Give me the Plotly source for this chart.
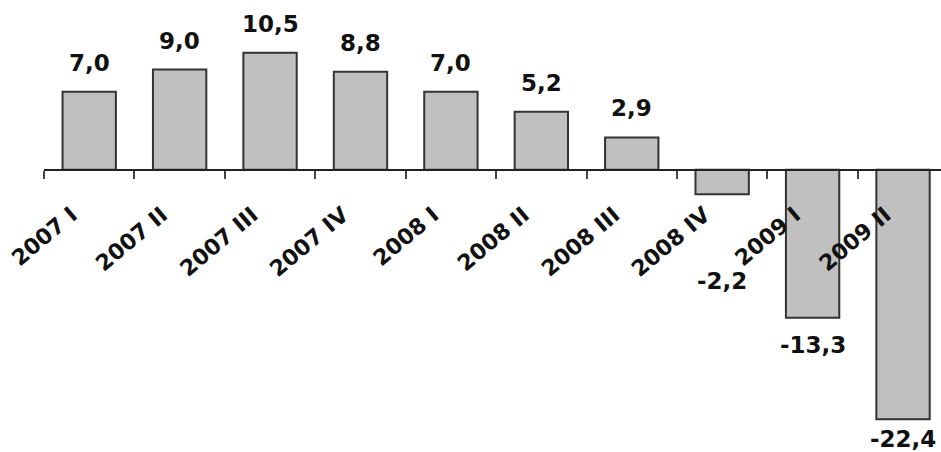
import plotly.graph_objects as go

categories = ["2007 I", "2007 II", "2007 III", "2007 IV", "2008 I", "2008 II",
              "2008 III", "2008 IV", "2009 I", "2009 II"]
values = [7.0, 9.0, 10.5, 8.8, 7.0, 5.2, 2.9, -2.2, -13.3, -22.4]

y_min, y_max = -24, 13
FONT = "DejaVu Sans, Verdana, sans-serif"

fig = go.Figure()
fig.add_trace(go.Bar(
    x=categories, y=values,
    marker=dict(color="#C0C0C0", line=dict(color="#333333", width=2)),
    width=0.59,
))

# value labels (label offsets are layout styling)
neg_shift = {"2008 IV": -72, "2009 II": -5}
for c, v in zip(categories, values):
    txt = f"{v:.1f}".replace(".", ",")
    if v >= 0:
        fig.add_annotation(x=c, y=v, text=f"<b>{txt}</b>", showarrow=False,
                           yanchor="bottom", yshift=14,
                           font=dict(family=FONT, size=23, color="#111111"))
    else:
        fig.add_annotation(x=c, y=v, text=f"<b>{txt}</b>", showarrow=False,
                           yanchor="top", yshift=neg_shift.get(c, -12),
                           font=dict(family=FONT, size=23, color="#111111"))

fig.update_layout(
    width=941, height=452,
    margin=dict(l=44, r=0, t=25, b=15, autoexpand=False),
    plot_bgcolor="white", paper_bgcolor="white",
    showlegend=False,
    xaxis=dict(
        range=[-0.5, 9.42],
        anchor="free",
        position=(0 - y_min) / (y_max - y_min),
        automargin=False,
        showline=True, linecolor="#222222", linewidth=2,
        ticks="outside", tickson="boundaries", ticklen=8, tickwidth=2,
        tickcolor="#444444",
        tickangle=-40,
        ticklabelstandoff=8,
        tickfont=dict(family=FONT, size=22, color="#111111"),
        tickprefix="<b>", ticksuffix="\u00a0\u00a0\u00a0</b>",
        showgrid=False, zeroline=False,
    ),
    yaxis=dict(range=[y_min, y_max], visible=False, automargin=False,
               showgrid=False, zeroline=False),
)

fig.write_html(
    "out.html",
    config={"displayModeBar": False},
    post_script="document.body.style.margin='0';document.body.style.overflow='hidden';",
)
